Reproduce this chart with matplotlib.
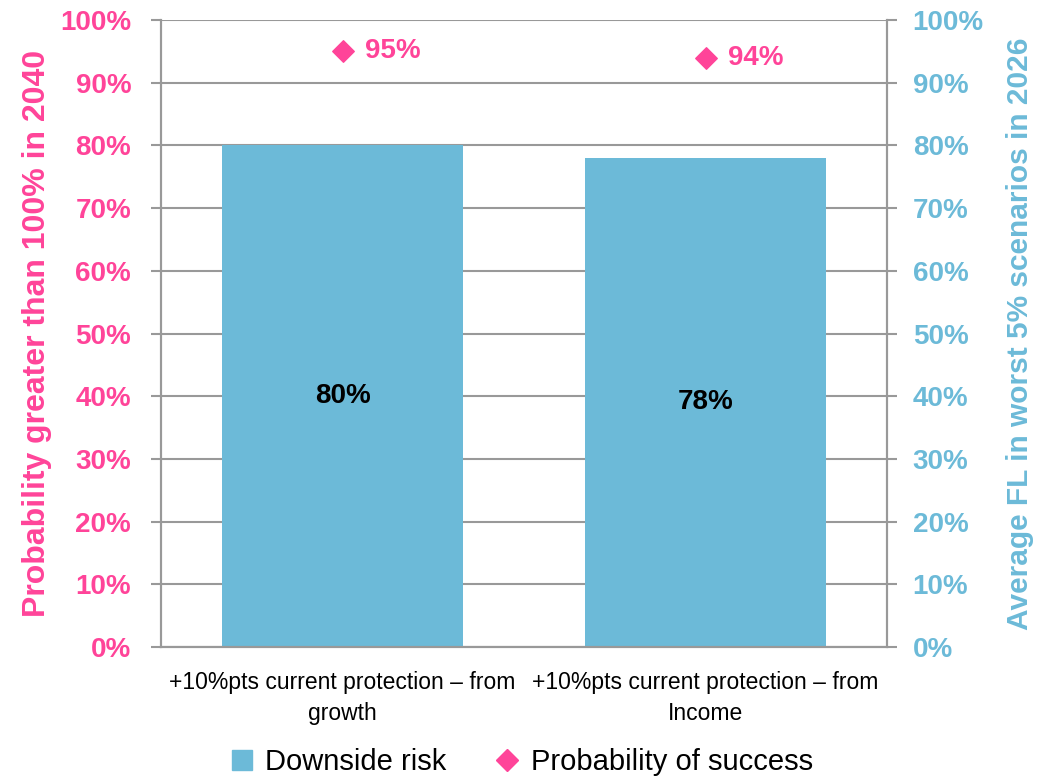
import numpy as np
import matplotlib.pyplot as plt
from matplotlib.lines import Line2D
from matplotlib.ticker import PercentFormatter

plt.rcParams['font.family'] = ['Liberation Sans', 'DejaVu Sans']

categories = ["+10%pts current protection \u2013 from\ngrowth",
              "+10%pts current protection \u2013 from\nIncome"]
downside_risk = [0.80, 0.78]
prob_success = [0.95, 0.94]

pink = "#FF4499"
blue = "#6CBAD8"
grey = "#999999"

fig = plt.figure(figsize=(10.4, 7.79), dpi=100)
ax = fig.add_axes([161/1040, 132/779, 726/1040, 627/779])
ax2 = ax.twinx()

x = np.arange(len(categories))

# bars on the right axis, markers on the left
ax2.bar(x, downside_risk, width=0.665, color=blue, zorder=2)
for xi, v in zip(x, downside_risk):
    ax2.text(xi, v / 2, f"{v:.0%}", ha="center", va="center",
             fontsize=20, fontweight="bold", color="black")

ax.set_zorder(ax2.get_zorder() + 1)
ax.patch.set_visible(False)
ax.scatter(x, prob_success, marker="D", s=120, color=pink, zorder=3)
for xi, v in zip(x, prob_success):
    ax.text(xi + 0.062, v, f"{v:.0%}", ha="left", va="center",
            fontsize=20, fontweight="bold", color=pink)

for a in (ax, ax2):
    a.set_ylim(0, 1)
    a.set_yticks(np.arange(0, 1.01, 0.1))
    a.yaxis.set_major_formatter(PercentFormatter(1.0, decimals=0))
    a.set_xlim(-0.5, 1.5)
    for s in a.spines.values():
        s.set_color(grey)
        s.set_linewidth(1.5)
    a.spines["top"].set_visible(False)

ax2.yaxis.grid(True, color=grey, linewidth=1.5, zorder=0)
ax2.set_axisbelow(True)

ax.tick_params(axis="y", length=7.5, width=1.5, color=grey, labelcolor=pink,
               labelsize=20, pad=14)
ax2.tick_params(axis="y", length=7.5, width=1.5, color=grey, labelcolor=blue,
                labelsize=20, pad=11)
for lab in ax.get_yticklabels():
    lab.set_fontweight("bold")
for lab in ax2.get_yticklabels():
    lab.set_fontweight("bold")

ax.set_ylabel("Probability greater than 100% in 2040", color=pink,
              fontsize=23, fontweight="bold", labelpad=6)
ax2.set_ylabel("Average FL in worst 5% scenarios in 2026", color=blue,
               fontsize=21.5, fontweight="bold", labelpad=16)

# category boundaries as major ticks, names as minor ticks
ax.set_xticks([-0.5, 0.5, 1.5])
ax.set_xticklabels([])
ax.set_xticks(x, minor=True)
ax.set_xticklabels(categories, minor=True, fontsize=16.5, linespacing=1.45)
ax.tick_params(axis="x", which="major", length=6, width=1.5, color=grey)
ax.tick_params(axis="x", which="minor", length=0, pad=17)
ax2.set_xticks([])

handles = [
    Line2D([], [], marker="s", linestyle="none", color=blue, markersize=14),
    Line2D([], [], marker="D", linestyle="none", color=pink, markersize=11),
]
fig.legend(handles, ["Downside risk", "Probability of success"],
           loc="lower center", bbox_to_anchor=(0.5, -0.03), ncol=2,
           frameon=False, fontsize=21, handlelength=1.0, handletextpad=0.3,
           columnspacing=1.6)

fig.savefig("out.png", dpi=100)
